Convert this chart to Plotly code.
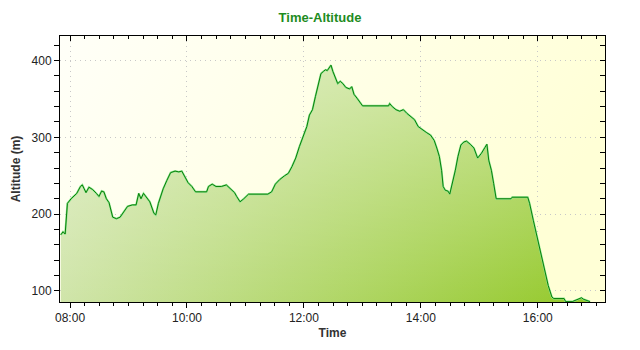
import base64
import pandas as pd
import plotly.graph_objects as go

DAY = "2024-01-01"

# elapsed clock time (minutes after midnight) of each sample
time_min = [
    470.5, 472.8, 475.0, 475.8, 477.3, 481.1, 486.9, 490.7, 492.6, 494.5,
    496.4, 499.4, 503.2, 507.0, 509.7, 512.4, 514.7, 517.3, 520.0, 523.8,
    527.6, 531.4, 535.2, 539.0, 544.0, 547.8, 550.5, 552.8, 555.4, 558.1,
    561.9, 566.1, 568.0, 570.7, 575.6, 579.4, 583.2, 587.8, 591.6, 594.7,
    597.7, 601.1, 605.0, 608.8, 616.4, 620.2, 622.1, 625.9, 629.7, 635.4,
    640.4, 645.0, 648.8, 651.0, 654.5, 658.3, 663.2, 683.0, 686.9, 690.7,
    695.2, 700.2, 704.0, 707.8, 711.6, 715.4, 719.2, 723.0, 725.7, 728.8,
    731.8, 734.5, 737.5, 740.2, 742.1, 744.0, 745.9, 747.8, 749.7, 752.4,
    754.7, 757.3, 760.0, 763.0, 766.9, 769.1, 771.4, 774.5, 778.3, 780.2,
    806.9, 808.0, 810.7, 814.5, 818.3, 822.1, 825.9, 829.7, 833.5, 837.3,
    842.3, 846.1, 849.9, 853.7, 856.4, 859.0, 861.3, 862.9, 865.1, 867.8,
    869.7, 871.6, 875.4, 878.1, 881.1, 884.2, 886.9, 890.7, 894.5, 898.3,
    902.1, 905.9, 907.8, 909.7, 912.4, 914.7, 917.3, 932.6, 933.7, 949.7,
    951.6, 955.4, 959.2, 963.0, 966.9, 970.7, 974.5, 976.4, 987.0, 988.6,
    995.4, 999.2, 1002.3, 1004.9, 1006.9, 1010.7, 1013.7,
]

# altitude (m) of each sample
altitude_m = [
    173, 177, 174, 188, 214, 220, 227, 236, 238, 233,
    228, 235, 232, 227, 223, 230, 229, 220, 215, 196,
    194, 196, 203, 210, 212, 212, 227, 220, 227, 223,
    216, 201, 199, 214, 233, 244, 254, 256, 255, 256,
    249, 241, 236, 229, 229, 229, 236, 239, 236, 236,
    238, 232, 228, 223, 216, 220, 226, 226, 229, 239,
    245, 250, 253, 262, 273, 288, 301, 314, 329, 336,
    353, 366, 383, 386, 388, 387, 391, 394, 386, 377,
    370, 373, 370, 365, 363, 366, 356, 351, 345, 341,
    341, 344, 340, 336, 334, 336, 331, 327, 323, 314,
    309, 306, 303, 296, 286, 275, 257, 236, 231, 230,
    226, 236, 257, 275, 290, 294, 295, 291, 286, 273,
    279, 287, 291, 270, 257, 240, 220, 220, 222, 222,
    214, 192, 170, 149, 127, 107, 92, 90, 90, 86,
    86, 88, 89, 91, 89, 87, 86,
]

X_RANGE_MIN = [469.7, 1029.0]
Y_RANGE = [85.5, 432.0]
X_MAJOR_MS = 2 * 3600 * 1000
X_MINOR_MS = 15 * 60 * 1000
Y_MAJOR = 100
Y_MINOR = 20

base = pd.Timestamp(DAY)
times = base + pd.to_timedelta(time_min, unit="m")
x_range = [base + pd.Timedelta(minutes=m) for m in X_RANGE_MIN]

TICKFONT = dict(family="Liberation Sans, Arial, sans-serif", size=12, color="#222222")
TITLEFONT = dict(family="Liberation Sans, Arial, sans-serif", size=12, color="#333333")
GRID = dict(showgrid=True, gridcolor="#C8C8C8", griddash="1px,4px", gridwidth=1)

fig = go.Figure()

# base fill: horizontal gradient
fig.add_trace(go.Scatter(
    x=times, y=altitude_m, mode="lines", fill="tozeroy",
    line=dict(width=0, color="rgba(0,0,0,0)"),
    fillgradient=dict(type="horizontal",
                      colorscale=[[0, "#D0E5AA"], [1, "#94C92A"]]),
    hoverinfo="skip", showlegend=False,
))
# whitening overlay: vertical gradient (gives diagonal look)
fig.add_trace(go.Scatter(
    x=times, y=altitude_m, mode="lines", fill="tozeroy",
    line=dict(width=0, color="rgba(0,0,0,0)"),
    fillgradient=dict(type="vertical", start=Y_RANGE[0], stop=Y_RANGE[1],
                      colorscale=[[0, "rgba(255,255,255,0)"],
                                  [1, "rgba(255,255,255,0.55)"]]),
    hoverinfo="skip", showlegend=False,
))
# glow line
fig.add_trace(go.Scatter(
    x=times, y=altitude_m, mode="lines",
    line=dict(width=2, color="#8FE48F"),
    hoverinfo="skip", showlegend=False,
))
# main line
fig.add_trace(go.Scatter(
    x=times, y=altitude_m, mode="lines",
    line=dict(width=1, color="#088008"),
    showlegend=False,
))
# dummy trace to activate the mirrored (inside-tick) axes
fig.add_trace(go.Scatter(
    x=times[:1], y=altitude_m[:1], mode="markers",
    marker=dict(opacity=0), xaxis="x2", yaxis="y2",
    hoverinfo="skip", showlegend=False,
))

bg_svg = (
    '<svg xmlns="http://www.w3.org/2000/svg" width="100" height="100" '
    'viewBox="0 0 100 100" preserveAspectRatio="none">'
    '<defs><linearGradient id="g" x1="0" y1="0" x2="1" y2="0.35">'
    '<stop offset="0" stop-color="#FFFFF8"/>'
    '<stop offset="1" stop-color="#FFFFD6"/>'
    '</linearGradient></defs>'
    '<rect width="100" height="100" fill="url(#g)"/></svg>'
)
bg_src = "data:image/svg+xml;base64," + base64.b64encode(bg_svg.encode()).decode()

common_x = dict(
    type="date", range=x_range, dtick=X_MAJOR_MS, tick0=DAY + " 00:00",
    zeroline=False,
)
common_y = dict(range=Y_RANGE, dtick=Y_MAJOR, tick0=0, zeroline=False)

fig.update_layout(
    width=640, height=350,
    margin=dict(l=60, r=35, t=36, b=48),
    paper_bgcolor="white",
    plot_bgcolor="#FFFFEA",
    images=[dict(source=bg_src, xref="paper", yref="paper", x=0, y=1,
                 sizex=1, sizey=1, sizing="stretch", layer="below",
                 xanchor="left", yanchor="top")],
    title=dict(text="<b>Time-Altitude</b>", x=0.5, xref="container",
               y=1 - 17 / 350, yref="container", yanchor="middle",
               xanchor="center",
               font=dict(family="Liberation Sans, Arial, sans-serif",
                         size=13, color="#1E8C1E")),
    xaxis=dict(
        **common_x, **GRID,
        tickformat="%H:%M", ticks="outside", ticklen=5, tickcolor="black",
        showline=True, linecolor="black", linewidth=1, mirror=True,
        minor=dict(dtick=X_MINOR_MS, tick0=DAY + " 00:00", ticks="outside",
                   ticklen=3, tickcolor="black", showgrid=False),
        tickfont=TICKFONT,
        title=dict(text="<b>Time</b>", font=TITLEFONT, standoff=4),
    ),
    yaxis=dict(
        **common_y, **GRID,
        ticks="outside", ticklen=5, tickcolor="black",
        showline=True, linecolor="black", linewidth=1, mirror=True,
        minor=dict(dtick=Y_MINOR, tick0=0, ticks="outside", ticklen=5,
                   tickcolor="black", showgrid=False),
        tickfont=TICKFONT,
        title=dict(text="<b>Altitude (m)</b>", font=TITLEFONT, standoff=8),
    ),
    xaxis2=dict(
        **common_x, overlaying="x", side="top", anchor="y2",
        ticks="inside", ticklen=5, tickcolor="black",
        showticklabels=False, showgrid=False, showline=False,
        minor=dict(dtick=X_MINOR_MS, tick0=DAY + " 00:00", ticks="inside",
                   ticklen=3, tickcolor="black", showgrid=False),
    ),
    yaxis2=dict(
        **common_y, overlaying="y", side="right", anchor="x2",
        ticks="inside", ticklen=5, tickcolor="black",
        showticklabels=False, showgrid=False, showline=False,
        minor=dict(dtick=Y_MINOR, tick0=0, ticks="inside", ticklen=5,
                   tickcolor="black", showgrid=False),
    ),
)

fig.write_html("out.html")
